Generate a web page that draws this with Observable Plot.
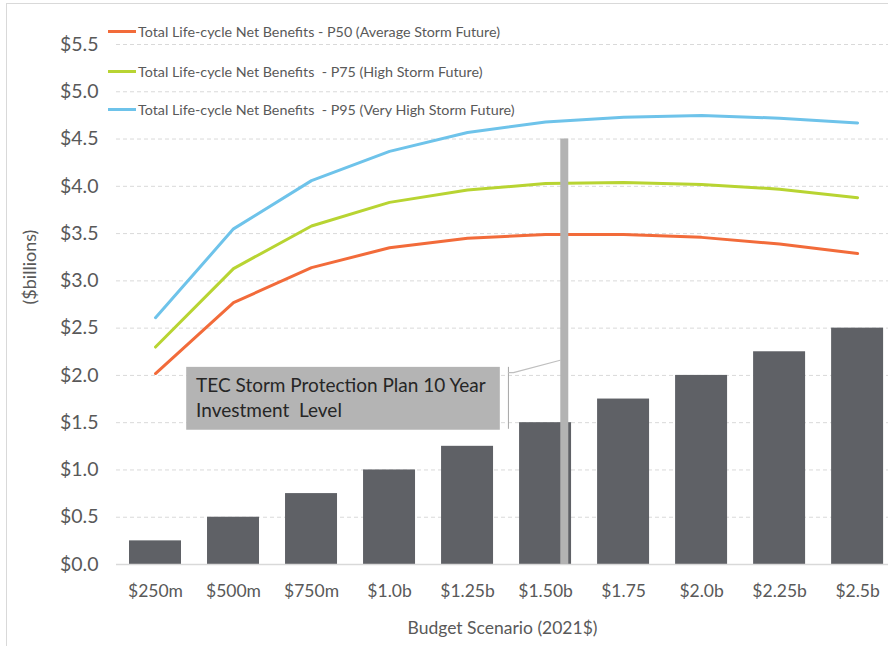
<!DOCTYPE html>
<html><head><meta charset="utf-8">
<script src="https://cdn.jsdelivr.net/npm/d3@7"></script>
<script src="https://cdn.jsdelivr.net/npm/@observablehq/plot@0.6"></script>
<style>
body{margin:0;background:#fff;font-family:Lato,sans-serif}
#wrap{position:relative;width:888px;height:646px;overflow:hidden}
#frame{position:absolute;left:6px;top:3px;width:900px;height:700px;border-left:1px solid #d9d9d9;border-top:1px solid #d9d9d9;pointer-events:none}
#legend{position:absolute;left:108px;top:0}
.item{position:absolute;left:0;height:18px;display:flex;align-items:center;white-space:pre;font-size:14.3px;color:#595959}
.sw{width:28px;height:3px;margin-right:2px}
</style></head><body>
<div id="wrap"><div id="chart"></div><div id="frame"></div><div id="legend"></div></div>
<script>
// ---- data ----
const budgetLabels = ["$250m","$500m","$750m","$1.0b","$1.25b","$1.50b","$1.75","$2.0b","$2.25b","$2.5b"];
const budgetValues = [0.25,0.5,0.75,1.0,1.25,1.5,1.75,2.0,2.25,2.5];
const p50Values = [2.02,2.77,3.14,3.35,3.45,3.49,3.49,3.46,3.39,3.29];
const p75Values = [2.30,3.13,3.58,3.83,3.96,4.03,4.04,4.02,3.97,3.88];
const p95Values = [2.61,3.55,4.06,4.37,4.57,4.68,4.73,4.75,4.72,4.67];
const seriesNames = [
  "Total Life-cycle Net Benefits - P50 (Average Storm Future)",
  "Total Life-cycle Net Benefits  - P75 (High Storm Future)",
  "Total Life-cycle Net Benefits  - P95 (Very High Storm Future)"
];
const seriesColors = ["#f26b3a","#b8d432","#6ec3ea"];
const yTicks = [0,0.5,1.0,1.5,2.0,2.5,3.0,3.5,4.0,4.5,5.0,5.5];
const investmentLevel = 1.56;
const investmentTop = 4.5;
const annotationText = ["TEC Storm Protection Plan 10 Year","Investment  Level"];
const yTitle = "($billions)";
const xTitle = "Budget Scenario (2021$)";

// ---- tables ----
const bars = budgetValues.map((v,i)=>({v, label: budgetLabels[i]}));
const seriesVals = [p50Values,p75Values,p95Values];
const lines = seriesVals.flatMap((arr,s)=>arr.map((y,i)=>({x: budgetValues[i], y, s: seriesNames[s]})));
const labelOf = new Map(budgetValues.map((v,i)=>[v,budgetLabels[i]]));
const halfW = 0.0833;

// annotation placement (data units)
const box = {x1:0.35, x2:1.355, y1:1.42, y2:2.085};
const bracketX = 1.381;

const chart = Plot.plot({
  width: 888, height: 646,
  marginLeft: 116, marginRight: 0, marginTop: 44, marginBottom: 82,
  style: {fontFamily: "Lato, sans-serif", color: "#595959", background: "transparent"},
  x: {type: "linear", domain: [0.125, 2.599]},
  y: {domain: [0, 5.5]},
  color: {domain: seriesNames, range: seriesColors},
  marks: [
    Plot.ruleY(yTicks.filter(t=>t>0), {stroke:"#d9d9d9", strokeDasharray:"4,3", strokeWidth:1}),
    Plot.rectY(bars, {x1: d=>d.v-halfW, x2: d=>d.v+halfW, y: "v", fill:"#5f6166"}),
    Plot.ruleY([0], {stroke:"#d9d9d9", strokeWidth:1.5}),
    Plot.line(lines, {x:"x", y:"y", stroke:"s", z:"s", strokeWidth:3, curve:"linear", strokeLinejoin:"round"}),
    Plot.ruleX([investmentLevel], {y1: 0, y2: investmentTop, stroke:"#b3b3b3", strokeWidth:8}),
    Plot.rect([box], {x1:"x1", x2:"x2", y1:"y1", y2:"y2", fill:"#b4b4b4"}),
    Plot.ruleX([bracketX], {y1: 1.43, y2: 2.085, stroke:"#a6a6a6", strokeWidth:1}),
    Plot.line([[bracketX,2.03],[1.397,2.03],[investmentLevel-0.013,2.16]], {stroke:"#bfbfbf", strokeWidth:1.2}),
    Plot.text([annotationText[0]], {x: 0.38, y: 1.89, text: d=>d, textAnchor:"start", fontSize:19, fill:"#262626"}),
    Plot.text([annotationText[1]], {x: 0.38, y: 1.62, text: d=>d, textAnchor:"start", fontSize:19, fill:"#262626"}),
    Plot.axisY({ticks: yTicks, tickFormat: d=>"$"+d.toFixed(1), tickSize:0, tickPadding:18, fontSize:19.5, label:null}),
    Plot.axisX({ticks: budgetValues, tickFormat: d=>labelOf.get(d), tickSize:0, tickPadding:20, fontSize:17.5, label:null}),
    Plot.text([yTitle], {frameAnchor:"left", dx:-86, rotate:-90, text:d=>d, fontSize:18, fill:"#595959"}),
    Plot.text([xTitle], {frameAnchor:"bottom", dy:69, text:d=>d, fontSize:17.5, fill:"#595959"})
  ]
});
document.getElementById("chart").appendChild(chart);

const legend = document.getElementById("legend");
const legendY = [31, 71, 109];
seriesNames.forEach((n,i)=>{
  const it = document.createElement("div");
  it.className = "item";
  it.style.top = (legendY[i]-9)+"px";
  const sw = document.createElement("span");
  sw.className = "sw"; sw.style.background = seriesColors[i];
  const t = document.createElement("span"); t.textContent = n;
  it.appendChild(sw); it.appendChild(t);
  legend.appendChild(it);
});
</script>
</body></html>
